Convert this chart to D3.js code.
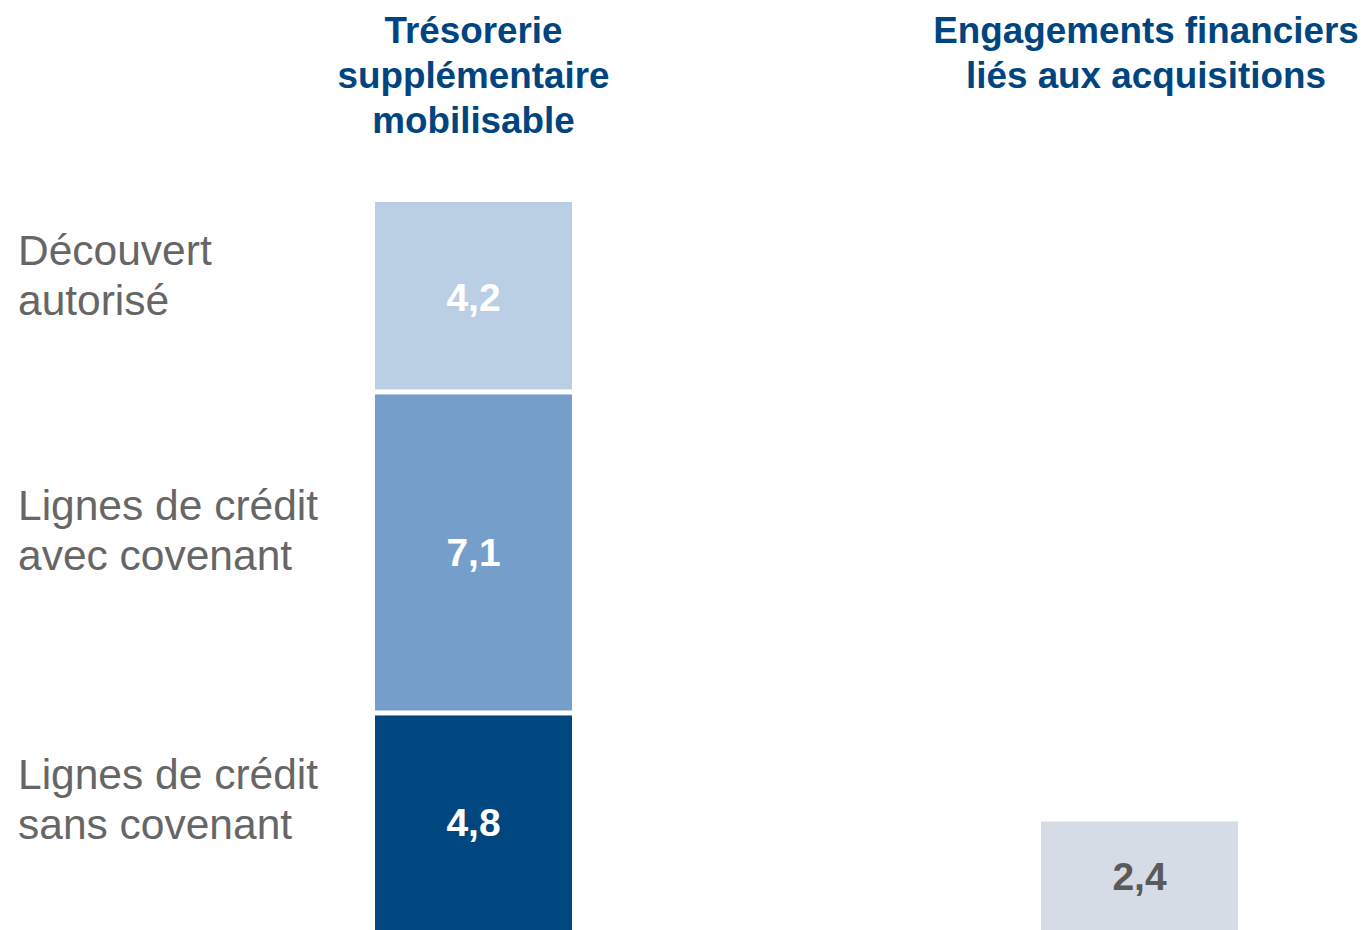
<!DOCTYPE html>
<html lang="fr">
<head>
<meta charset="utf-8">
<script src="https://cdn.jsdelivr.net/npm/d3@7"></script>
<style>
  html, body { margin: 0; padding: 0; background: #ffffff; }
  svg { display: block; font-family: "Liberation Sans", Arial, Helvetica, sans-serif; }
</style>
</head>
<body>
<svg id="chart" width="1369" height="930"></svg>
<script>
// Stacked liquidity bar (bottom to top) and the separate commitments bar
const segmentNames = ["Lignes de crédit sans covenant", "Lignes de crédit avec covenant", "Découvert autorisé"];
const segmentLabelLines = [["Lignes de crédit", "sans covenant"], ["Lignes de crédit", "avec covenant"], ["Découvert", "autorisé"]];
const segmentValues = [4.8, 7.1, 4.2];
const segmentColors = ["#00467f", "#759fca", "#bacfe4"];

const columnKeys = ["tresorerie", "engagements"];
const columnTitles = [["Trésorerie", "supplémentaire", "mobilisable"], ["Engagements financiers", "liés aux acquisitions"]];
const acquisitionValues = [2.4];

const fmt = v => d3.format(".1f")(v).replace(".", ",");

const svg = d3.select("#chart");
const baseY = 930, topY = 202;

const total = d3.sum(segmentValues);
const y = d3.scaleLinear().domain([0, total]).range([baseY, topY]);

// Horizontal placement of the two columns
const bw = 197;
const x = d3.scalePoint().domain(columnKeys).range([375, 1041]);

// Stack the segments
const stackData = [{ key: "tresorerie" }];
segmentValues.forEach((v, i) => { stackData[0]["s" + i] = v; });
const stack = d3.stack().keys(segmentValues.map((_, i) => "s" + i));
const series = stack(stackData);

const gap = 5;
const n = series.length;
const g = svg.append("g");

series.forEach((s, i) => {
  const d = s[0];
  let y0 = y(d[1]);
  let y1 = y(d[0]);
  if (i < n - 1) y0 += gap / 2;
  if (i > 0) y1 -= gap / 2;
  g.append("rect")
    .attr("x", x("tresorerie"))
    .attr("y", y0)
    .attr("width", bw)
    .attr("height", y1 - y0)
    .attr("fill", segmentColors[i]);

  const cy = (y(d[0]) + y(d[1])) / 2;
  g.append("text")
    .attr("x", x("tresorerie") + bw / 2)
    .attr("y", cy)
    .attr("dy", "0.36em")
    .attr("text-anchor", "middle")
    .attr("font-weight", "bold")
    .attr("font-size", 39)
    .attr("fill", "#ffffff")
    .text(fmt(segmentValues[i]));

  // category label on the left
  const lines = segmentLabelLines[i];
  const lineH = 50;
  const t = g.append("text")
    .attr("x", 18)
    .attr("font-size", 42.5)
    .attr("fill", "#666666");
  const firstBase = cy - 22 - (lines.length - 1) * lineH / 2 + 15;
  lines.forEach((ln, k) => {
    t.append("tspan").attr("x", 18).attr("y", firstBase + k * lineH).text(ln);
  });
});

// Acquisition commitments bar
acquisitionValues.forEach(v => {
  g.append("rect")
    .attr("x", x("engagements"))
    .attr("y", y(v))
    .attr("width", bw)
    .attr("height", y(0) - y(v))
    .attr("fill", "#d5dce5");
  g.append("text")
    .attr("x", x("engagements") + bw / 2)
    .attr("y", (y(0) + y(v)) / 2)
    .attr("dy", "0.36em")
    .attr("text-anchor", "middle")
    .attr("font-weight", "bold")
    .attr("font-size", 39)
    .attr("fill", "#5a5a5a")
    .text(fmt(v));
});

// Column titles
const titleCenters = [x("tresorerie") + bw / 2, 1146];
columnTitles.forEach((lines, c) => {
  const t = svg.append("text")
    .attr("text-anchor", "middle")
    .attr("font-weight", "bold")
    .attr("font-size", 36.8)
    .attr("fill", "#00457f");
  lines.forEach((ln, k) => {
    t.append("tspan").attr("x", titleCenters[c]).attr("y", 43 + k * 45).text(ln);
  });
});
</script>
</body>
</html>
